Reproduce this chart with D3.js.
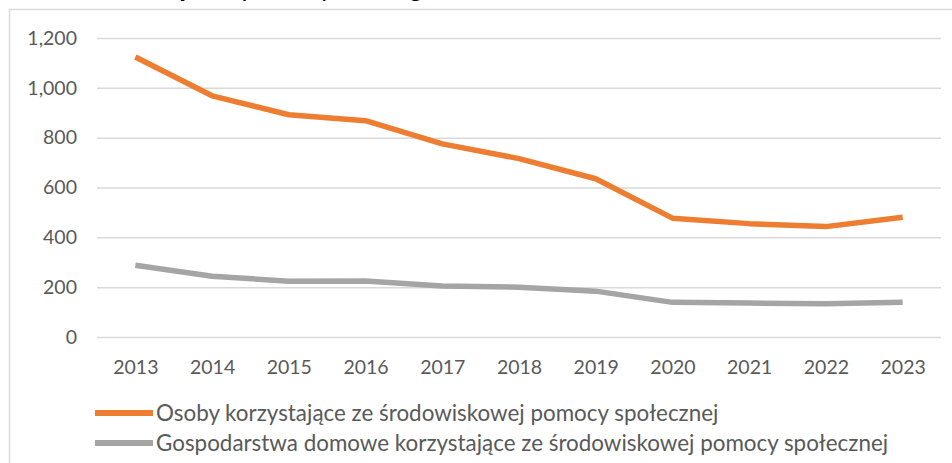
<!DOCTYPE html>
<html>
<head>
<meta charset="utf-8">
<script src="https://cdn.jsdelivr.net/npm/d3@7"></script>
<style>
  body { margin: 0; background: #fff; }
  svg { display: block; font-family: Lato, "Open Sans", sans-serif; }
</style>
</head>
<body>
<svg id="chart" width="952" height="463"></svg>
<script>
/// data ///
const years = ["2013", "2014", "2015", "2016", "2017", "2018", "2019", "2020", "2021", "2022", "2023"];
const osoby = [1124, 968, 892, 868, 775, 716, 635, 477, 455, 443, 481];
const gospodarstwa = [288, 244, 224, 225, 205, 200, 184, 139, 136, 133, 139];
const yTicks = [0, 200, 400, 600, 800, 1000, 1200];
const seriesNames = [
  "Osoby korzystające ze środowiskowej pomocy społecznej",
  "Gospodarstwa domowe korzystające ze środowiskowej pomocy społecznej"
];

/// constants ///
const width = 952, height = 463;
const margin = {top: 38, right: 11, bottom: 126, left: 97};
const orange = "#ED7D31";
const grey = "#A5A5A5";
const textColour = "#595959";
const gridColour = "#D9D9D9";

const svg = d3.select("#chart");

// title, cut off by the top of the picture (only descenders show)
svg.append("text")
  .attr("x", 96)
  .attr("y", -4)
  .attr("font-size", 26)
  .attr("fill", "#000")
  .text("Beneficjenci pomocy według lat");

// chart frame
svg.append("rect")
  .attr("x", 9.5)
  .attr("y", 9.5)
  .attr("width", 1000)
  .attr("height", 1000)
  .attr("fill", "#fff")
  .attr("stroke", gridColour)
  .attr("stroke-width", 1.5);

/// scales ///
const x = d3.scalePoint()
  .domain(years)
  .range([margin.left, width - margin.right])
  .padding(0.5);

const y = d3.scaleLinear()
  .domain([0, 1200])
  .range([height - margin.bottom, margin.top]);

/// grid + y axis ///
svg.append("g")
  .attr("transform", `translate(${margin.left},0)`)
  .call(d3.axisLeft(y).tickValues(yTicks).tickFormat(d3.format(",")).tickSize(-(width - margin.left - margin.right)).tickPadding(20))
  .call(g => g.select(".domain").remove())
  .call(g => g.selectAll(".tick line").attr("stroke", gridColour).attr("stroke-width", 1.5))
  .call(g => g.selectAll(".tick text")
    .attr("fill", textColour)
    .attr("font-size", 19.5)
    .attr("font-family", "Lato, sans-serif"));

/// x axis ///
svg.append("g")
  .attr("transform", `translate(0,${height - margin.bottom})`)
  .call(d3.axisBottom(x).tickSize(0).tickPadding(23))
  .call(g => g.select(".domain").remove())
  .call(g => g.selectAll(".tick text")
    .attr("fill", textColour)
    .attr("font-size", 19.5)
    .attr("font-family", "Lato, sans-serif"));

/// lines ///
const line = d3.line()
  .x((d, i) => x(years[i]))
  .y(d => y(d));

svg.append("path")
  .datum(gospodarstwa)
  .attr("d", line)
  .attr("fill", "none")
  .attr("stroke", grey)
  .attr("stroke-width", 5.5)
  .attr("stroke-linejoin", "round");

svg.append("path")
  .datum(osoby)
  .attr("d", line)
  .attr("fill", "none")
  .attr("stroke", orange)
  .attr("stroke-width", 5.5)
  .attr("stroke-linejoin", "round");

/// legend ///
const legend = svg.append("g")
  .selectAll("g")
  .data(seriesNames)
  .join("g")
  .attr("transform", (d, i) => `translate(95,${413 + i * 30})`);

legend.append("line")
  .attr("x1", 0)
  .attr("x2", 58)
  .attr("stroke", (d, i) => i === 0 ? orange : grey)
  .attr("stroke-width", 6);

legend.append("text")
  .attr("x", 61)
  .attr("dy", "0.35em")
  .attr("font-size", 22.4)
  .attr("fill", textColour)
  .text(d => d);
</script>
</body>
</html>
